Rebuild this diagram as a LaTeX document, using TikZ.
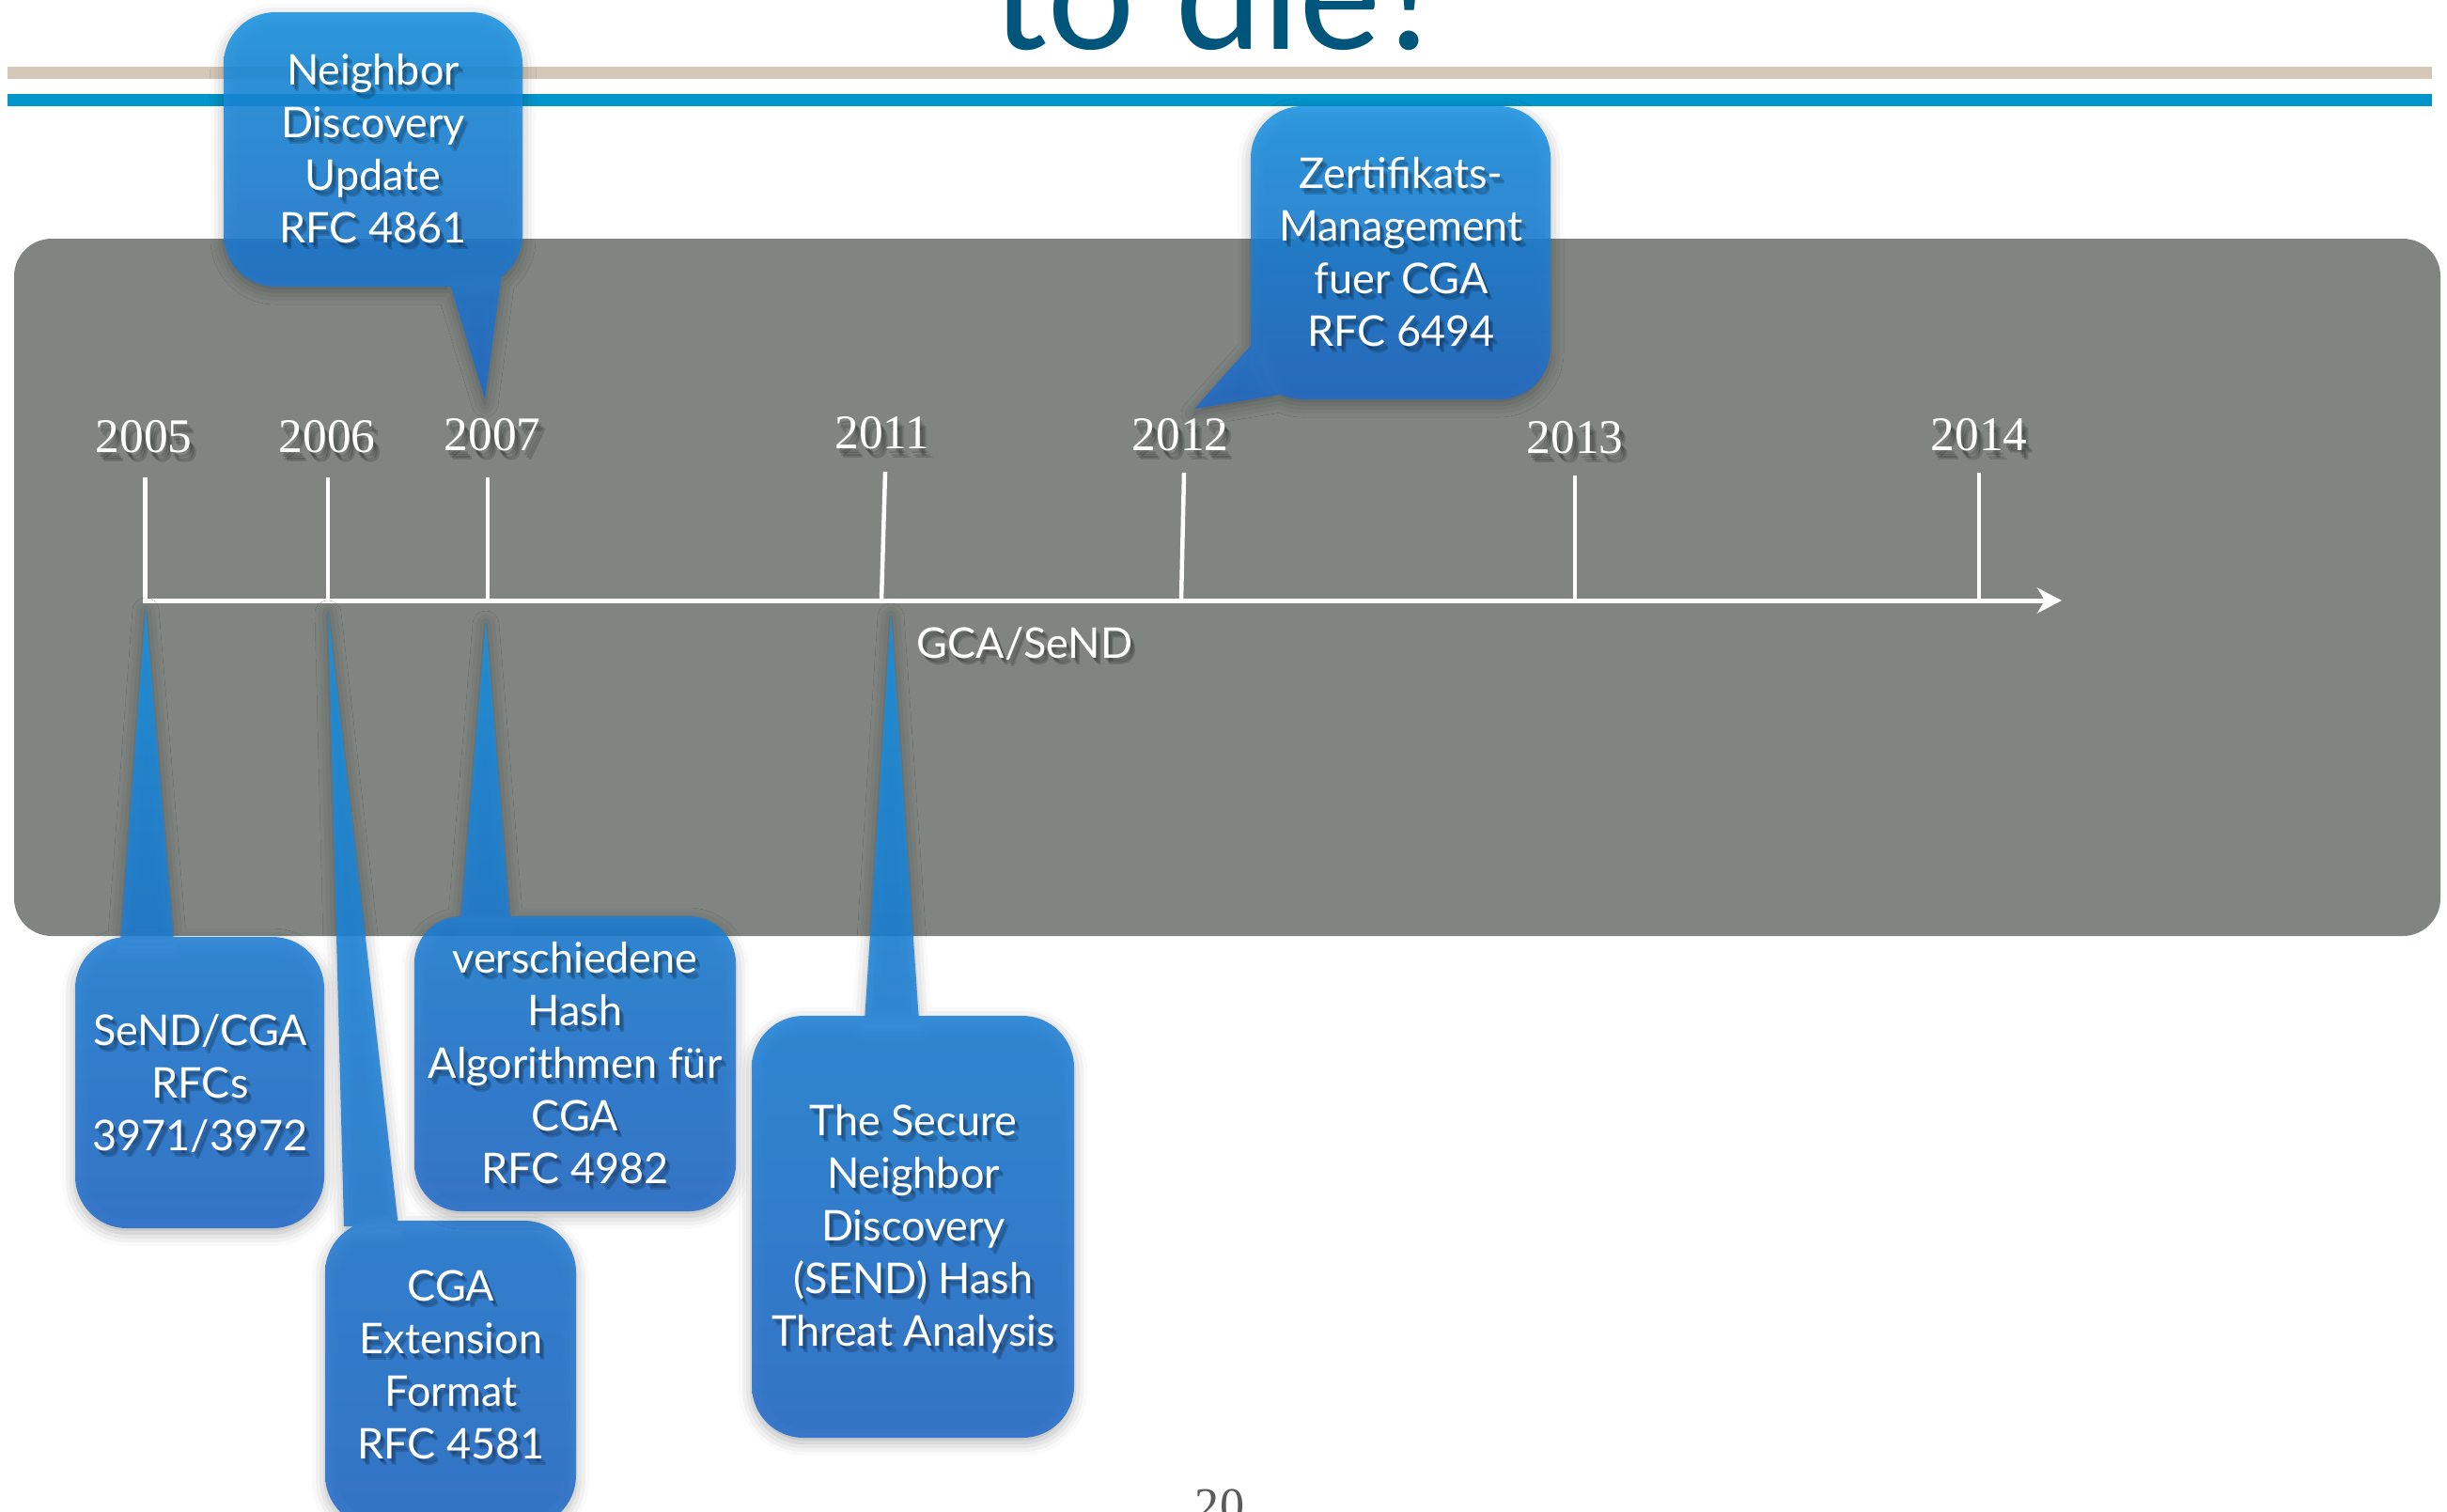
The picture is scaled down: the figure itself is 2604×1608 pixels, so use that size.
\documentclass[tikz,border=0pt]{standalone}
\usepackage{fontspec}
\setmainfont{Lato}
\newfontfamily\yearfont{Liberation Serif}
\usetikzlibrary{arrows.meta,shadows.blur}

\definecolor{panelgray}{RGB}{128,133,130}
\definecolor{rulebeige}{RGB}{212,200,185}
\definecolor{ruleblue}{RGB}{0,150,204}
\definecolor{titleblue}{RGB}{0,85,122}
\definecolor{bubtop}{RGB}{22,146,226}
\definecolor{bubbot}{RGB}{32,106,200}
\definecolor{pagegray}{RGB}{90,90,90}

\tikzset{
  bubble/.style={top color=bubtop, bottom color=bubbot, fill opacity=0.86,
    blur shadow={shadow xshift=0pt, shadow yshift=-0.05cm,
                 shadow blur radius=0.14cm, shadow opacity=30}},
  bubtxt/.style={text=white, anchor=base, inner sep=0pt,
    font=\fontsize{12.8pt}{15pt}\selectfont},
  bubshadow/.style={bubtxt, text=black, text opacity=0.15},
  yeartxt/.style={text=white, anchor=base, inner sep=0pt,
    font=\yearfont\fontsize{14.6pt}{17pt}\selectfont},
  yearshadow/.style={yeartxt, text=black, text opacity=0.15},
  axisline/.style={white, line width=0.05cm},
  tickline/.style={white, line width=0.045cm},
}

% centred lines of bubble text: name, x, first baseline, lines
\newcommand\textlines[4]{%
  \foreach \bline [count=\li] in {#4}{%
    \foreach \dx/\dy [count=\si] in {2/3,4/5,5/7}{%
      \node[bubshadow] (#1-\li-s\si) at (#2+\dx, #3+56*\li-56+\dy) {\bline};}
    \node[bubtxt] (#1-\li) at (#2, #3+56*\li-56) {\bline};}}

% year above a tick: year, x, baseline
\newcommand\yearlabel[3]{%
  \foreach \dx/\dy [count=\si] in {3/5,5/8,7/10}{%
    \node[yearshadow] (y#1-s\si) at (#2+\dx, #3+\dy) {#1};}
  \node[yeartxt] (y#1) at (#2, #3) {#1};}

\begin{document}
\begin{tikzpicture}[x=0.01cm, y=-0.01cm]
\useasboundingbox (0,0) rectangle (2604,1608);

% header rules and title
\fill[rulebeige] (8,71) rectangle (2588,84);
\fill[ruleblue] (8,100) rectangle (2588,113);
\node[anchor=base west, inner sep=0pt, text=titleblue,
      font=\fontsize{47pt}{50pt}\selectfont] (title) at (1055,52) {to die?};

% timeline panel
\fill[panelgray, rounded corners=0.4cm] (15,254) rectangle (2597,996);

% ticks and axis
\coordinate (a2005) at (154,639);  \coordinate (h2005) at (154,508);
\coordinate (a2006) at (349,639);  \coordinate (h2006) at (349,508);
\coordinate (a2007) at (519,639);  \coordinate (h2007) at (519,508);
\coordinate (a2011) at (938,639);  \coordinate (h2011) at (942,502);
\coordinate (a2012) at (1257,639); \coordinate (h2012) at (1260,503);
\coordinate (a2013) at (1676,639); \coordinate (h2013) at (1676,506);
\coordinate (a2014) at (2106,639); \coordinate (h2014) at (2106,503);
\coordinate (axisend) at (2194,639);

\foreach \yr in {2006,2007,2011,2012,2013,2014}
  \draw[tickline] (h\yr) -- (a\yr);
\draw[axisline, line join=miter,
      -{Stealth[length=0.26cm, width=0.27cm, inset=0.08cm]}]
  (h2005) -- (a2005) -- (axisend);

\yearlabel{2005}{153}{481}
\yearlabel{2006}{348}{481}
\yearlabel{2007}{524}{479}
\yearlabel{2011}{939}{477}
\yearlabel{2012}{1256}{479}
\yearlabel{2013}{1676}{482}
\yearlabel{2014}{2106}{479}

\foreach \dx/\dy [count=\si] in {2/3,4/5,5/7}
  \node[bubshadow, anchor=base west] (axislabel-s\si) at (975+\dx,700+\dy) {GCA/SeND};
\node[bubtxt, anchor=base west] (axislabel) at (975,700) {GCA/SeND};

% callouts
\shade[bubble] [rounded corners=0.55cm] (238,13) -- (556,13) -- (556,305) -- (238,305) -- cycle
  [sharp corners] (478,300) -- (534,292) -- (516,425) -- cycle;
\textlines{nd}{397}{90}{Neighbor,Discovery,Update,RFC 4861}

\shade[bubble] [rounded corners=0.55cm] (1331,113) -- (1650,113) -- (1650,425) -- (1331,425) -- cycle
  [sharp corners] (1336,362) -- (1362,420) -- (1271,435) -- cycle;
\textlines{zm}{1491}{200}{Zertifikats-,Management,fuer CGA,RFC 6494}

\shade[bubble] [rounded corners=0.55cm] (80,997) -- (345,997) -- (345,1307) -- (80,1307) -- cycle
  [sharp corners] (128,1003) -- (155,645) -- (185,1003) -- cycle;
\textlines{sc}{213}{1112}{SeND/CGA,RFCs,3971/3972}

\shade[bubble] [rounded corners=0.55cm] (346,1299) -- (613,1299) -- (613,1625) -- (346,1625) -- cycle
  [sharp corners] (366,1305) -- (349,648) -- (424,1305) -- cycle;
\textlines{ce}{480}{1384}{CGA,Extension,Format,RFC 4581}

\shade[bubble] [rounded corners=0.5cm] (441,975) -- (783,975) -- (783,1289) -- (441,1289) -- cycle
  [sharp corners] (490,981) -- (517,659) -- (543,981) -- cycle;
\textlines{vh}{612}{1035}{verschiedene,Hash,Algorithmen für,CGA,RFC 4982}

\shade[bubble] [rounded corners=0.55cm] (800,1081) -- (1143,1081) -- (1143,1530) -- (800,1530) -- cycle
  [sharp corners] (920,1087) -- (948,651) -- (978,1087) -- cycle;
\textlines{st}{972}{1208}{The Secure,Neighbor,Discovery,(SEND) Hash,Threat Analysis}

% page number
\node[anchor=base, inner sep=0pt, text=pagegray,
      font=\yearfont\fontsize{14.8pt}{17pt}\selectfont] (pagenum) at (1298,1619) {20};
\end{tikzpicture}
\end{document}
